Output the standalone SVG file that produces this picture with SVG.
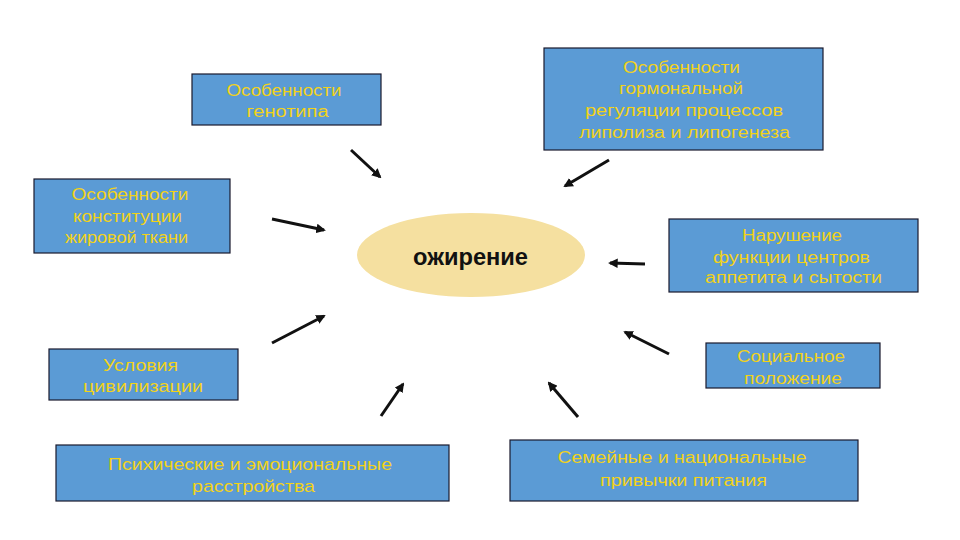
<svg xmlns="http://www.w3.org/2000/svg" width="960" height="540" viewBox="0 0 960 540">
<style>
.box{fill:#5b9bd5;stroke:#1a1a2e;stroke-width:1.2}
.t{font-family:"Liberation Sans",Arial,sans-serif;font-size:16px;fill:#f2d21a;text-anchor:middle}
.l{font-size:17px}
.c{font-family:"Liberation Sans",Arial,sans-serif;font-size:23px;font-weight:bold;fill:#111;text-anchor:middle}
.a{stroke:#111;stroke-width:3;fill:none;marker-end:url(#ah)}
</style>
<defs>
<marker id="ah" viewBox="0 0 10 10" refX="8" refY="5" markerWidth="3.2" markerHeight="3.2" orient="auto" markerUnits="strokeWidth">
<path d="M0,0 L10,5 L0,10 Z" fill="#111"/>
</marker>
</defs>
<rect width="960" height="540" fill="#fff"/>
<g id="center">
<ellipse cx="471" cy="255" rx="114" ry="42" fill="#f5e0a0"/>
<text class="c" x="470.5" y="265" textLength="115" lengthAdjust="spacingAndGlyphs">ожирение</text>
</g>
<g id="genotype">
<rect class="box" x="192" y="74" width="189" height="51"/>
<text class="t" x="284" y="96" textLength="115" lengthAdjust="spacingAndGlyphs">Особенности</text>
<text class="t" x="287.5" y="117" textLength="82" lengthAdjust="spacingAndGlyphs">генотипа</text>
</g>
<g id="hormonal">
<rect class="box" x="544" y="48" width="279" height="102"/>
<text class="t" x="681.5" y="73" textLength="117" lengthAdjust="spacingAndGlyphs">Особенности</text>
<text class="t" x="681" y="94" textLength="124" lengthAdjust="spacingAndGlyphs">гормональной</text>
<text class="t" x="684" y="116" textLength="198" lengthAdjust="spacingAndGlyphs">регуляции процессов</text>
<text class="t" x="684.5" y="138" textLength="211" lengthAdjust="spacingAndGlyphs">липолиза и липогенеза</text>
</g>
<g id="constitution">
<rect class="box" x="34" y="179" width="196" height="74"/>
<text class="t" x="130" y="200" textLength="117" lengthAdjust="spacingAndGlyphs">Особенности</text>
<text class="t" x="127.5" y="222" textLength="109" lengthAdjust="spacingAndGlyphs">конституции</text>
<text class="t" x="126.5" y="243" textLength="123" lengthAdjust="spacingAndGlyphs">жировой ткани</text>
</g>
<g id="appetite">
<rect class="box" x="669" y="219" width="249" height="73"/>
<text class="t" x="792" y="241" textLength="100" lengthAdjust="spacingAndGlyphs">Нарушение</text>
<text class="t" x="791.5" y="263" textLength="157" lengthAdjust="spacingAndGlyphs">функции центров</text>
<text class="t" x="793.5" y="283" textLength="177" lengthAdjust="spacingAndGlyphs">аппетита и сытости</text>
</g>
<g id="civilization">
<rect class="box" x="49" y="349" width="189" height="51"/>
<text class="t l" x="140.5" y="371" textLength="75" lengthAdjust="spacingAndGlyphs">Условия</text>
<text class="t l" x="143" y="392" textLength="120" lengthAdjust="spacingAndGlyphs">цивилизации</text>
</g>
<g id="social">
<rect class="box" x="706" y="343" width="174" height="45"/>
<text class="t" x="791" y="362" textLength="108" lengthAdjust="spacingAndGlyphs">Социальное</text>
<text class="t" x="793" y="384" textLength="98" lengthAdjust="spacingAndGlyphs">положение</text>
</g>
<g id="psychic">
<rect class="box" x="56" y="445" width="393" height="56"/>
<text class="t l" x="250" y="470" textLength="284" lengthAdjust="spacingAndGlyphs">Психические и эмоциональные</text>
<text class="t l" x="253.5" y="492" textLength="123" lengthAdjust="spacingAndGlyphs">расстройства</text>
</g>
<g id="family">
<rect class="box" x="510" y="440" width="348" height="61"/>
<text class="t" x="682" y="463" textLength="249" lengthAdjust="spacingAndGlyphs">Семейные и национальные</text>
<text class="t" x="683.5" y="486" textLength="167" lengthAdjust="spacingAndGlyphs">привычки питания</text>
</g>
<g id="connectors">
<line class="a" x1="351" y1="150" x2="380" y2="177"/>
<line class="a" x1="609" y1="160" x2="565" y2="186"/>
<line class="a" x1="272" y1="219" x2="324" y2="230"/>
<line class="a" x1="645" y1="264" x2="610" y2="263"/>
<line class="a" x1="272" y1="343" x2="324" y2="316"/>
<line class="a" x1="381" y1="416" x2="403" y2="384"/>
<line class="a" x1="669" y1="354" x2="625" y2="332"/>
<line class="a" x1="578" y1="417" x2="549" y2="383"/>
</g>
</svg>
